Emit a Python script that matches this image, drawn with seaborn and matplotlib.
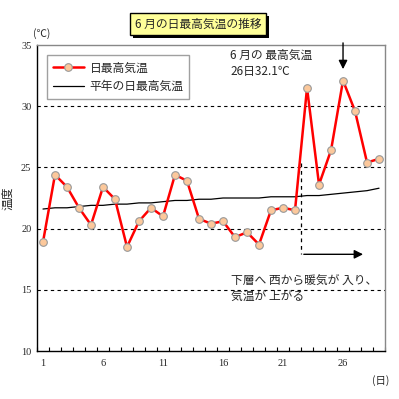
import numpy as np
import pandas as pd
import matplotlib
matplotlib.use("Agg")
import matplotlib.pyplot as plt
import seaborn as sns

# ----------------------------
# DATA
# ----------------------------
days = list(range(1, 30))
max_temp = [18.9, 24.4, 23.4, 21.7, 20.3, 23.4, 22.4, 18.5, 20.6, 21.7,
            21.0, 24.4, 23.9, 20.8, 20.4, 20.6, 19.3, 19.7, 18.7, 21.5,
            21.7, 21.5, 31.5, 23.6, 26.4, 32.1, 29.6, 25.4, 25.7]
normal_temp = [21.6, 21.7, 21.7, 21.8, 21.9, 21.9, 22.0, 22.0, 22.1, 22.1,
               22.2, 22.3, 22.3, 22.4, 22.4, 22.5, 22.5, 22.5, 22.5, 22.6,
               22.6, 22.6, 22.7, 22.7, 22.8, 22.9, 23.0, 23.1, 23.3]
x_ticks = [1, 6, 11, 16, 21, 26]
y_ticks = [10, 15, 20, 25, 30, 35]

df = pd.DataFrame({"day": days, "max": max_temp, "normal": normal_temp})

# ----------------------------
# STYLE
# ----------------------------
sns.set_style("white")
plt.rcParams["font.family"] = ["Noto Sans CJK JP", "DejaVu Sans"]
fs = 7.5     # tick labels
fj = 8.5     # japanese text

fig = plt.figure(figsize=(3.99, 3.99), dpi=100)
ax = fig.add_axes([0.0927, 0.1203, 0.8723, 0.7669])

sns.lineplot(data=df, x="day", y="normal", color="black", linewidth=0.9,
             ax=ax, label="平年の日最高気温")
sns.lineplot(data=df, x="day", y="max", color="#ff0000", linewidth=1.8,
             marker="o", markersize=5.5, markerfacecolor="#fcc89b",
             markeredgecolor="#999999", markeredgewidth=0.8,
             ax=ax, label="日最高気温")

ax.set_xlim(0.5, 29.5)
ax.set_ylim(10, 35)
ax.set_xticks(x_ticks)
ax.set_xticks(np.arange(0.5, 30, 1), minor=True)
ax.set_yticks(y_ticks)
ax.tick_params(axis="x", which="major", length=0, labelsize=fs, pad=6)
ax.tick_params(axis="x", which="minor", direction="in", length=3, width=0.8,
               color="black", bottom=True)
ax.tick_params(axis="y", length=0, labelsize=fs, pad=4)
for lab in ax.get_xticklabels() + ax.get_yticklabels():
    lab.set_fontfamily(["Liberation Serif", "DejaVu Serif"])
ax.set_xlabel("")
ax.set_ylabel("温度", fontsize=fj, labelpad=5)

for v in [15, 20, 25, 30]:
    ax.axhline(v, color="black", linestyle=(0, (3, 3)), linewidth=0.8, zorder=0)

for s in ["left", "bottom"]:
    ax.spines[s].set_color("black")
    ax.spines[s].set_linewidth(1.0)
for s in ["top", "right"]:
    ax.spines[s].set_color("#888888")
    ax.spines[s].set_linewidth(1.0)

# legend (red first)
h, l = ax.get_legend_handles_labels()
leg = ax.legend(h[::-1], l[::-1], loc="upper left", bbox_to_anchor=(0.012, 0.985),
                fontsize=fj, frameon=True, fancybox=False, edgecolor="#888888",
                handlelength=2.6, borderpad=0.5, labelspacing=0.45,
                handletextpad=0.5)
leg.get_frame().set_linewidth(1.0)

# title box with shadow
title = fig.text(0.497, 0.94, "6 月の日最高気温の推移", ha="center", va="center",
                 fontsize=fj, zorder=5,
                 bbox=dict(boxstyle="square,pad=0.4", facecolor="#ffff99",
                           edgecolor="black", linewidth=1.0))
fig.canvas.draw()
bb = title.get_bbox_patch().get_window_extent()
W, H = fig.bbox.width, fig.bbox.height
shadow = plt.Rectangle(((bb.x0 + 3) / W, (bb.y0 - 3) / H), bb.width / W, bb.height / H,
                       transform=fig.transFigure, facecolor="black", edgecolor="none",
                       zorder=4)
fig.patches.append(shadow)

fig.text(0.105, 0.915, "(℃)", fontsize=fs, ha="center", va="center")
fig.text(0.955, 0.045, "(日)", fontsize=fs, ha="center", va="center")

# annotations
ax.text(16.6, 33.5, "6 月の 最高気温\n26日32.1℃", fontsize=fj, va="center",
        linespacing=1.3)
ax.annotate("", xy=(26, 32.8), xytext=(26, 35.4),
            arrowprops=dict(arrowstyle="-|>", color="black", lw=1.0,
                            mutation_scale=13), annotation_clip=False)
ax.plot([22.5, 22.5], [25.4, 17.9], color="black", linestyle=(0, (3, 3)), linewidth=0.9)
ax.annotate("", xy=(27.9, 17.9), xytext=(22.5, 17.9),
            arrowprops=dict(arrowstyle="-|>", color="black", lw=1.0, mutation_scale=13))
ax.text(16.7, 15.1, "下層へ 西から暖気が 入り、\n気温が 上がる", fontsize=fj,
        va="center", linespacing=1.3)

fig.savefig("out.png", dpi=100)
